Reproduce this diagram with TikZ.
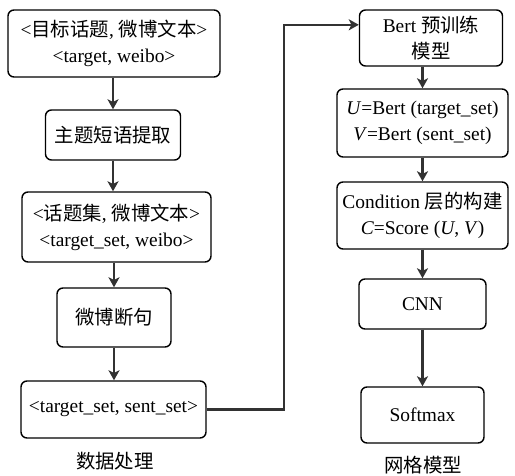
\documentclass[tikz,border=0pt]{standalone}
\usepackage{fontspec}
\setmainfont{Liberation Serif}
\newfontfamily\zh{Noto Sans CJK SC}
\usetikzlibrary{arrows.meta,calc}
\definecolor{linecolor}{RGB}{50,50,50}

\begin{document}
\begin{tikzpicture}[x=0.5pt,y=-0.5pt,
    box/.style={rectangle, rounded corners=3pt, draw=black, line width=0.7pt,
                align=center, inner sep=1pt, font=\fontsize{9.7}{13}\selectfont},
    arr/.style={-{Stealth[length=5pt,width=5.5pt,inset=1.3pt]}, line width=1.2pt, draw=linecolor},
    caption/.style={font=\fontsize{9.7}{13}\selectfont\zh}
  ]
  \useasboundingbox (0,0) rectangle (515,476);

  % data processing
  \node[box, minimum width=106pt, minimum height=33.5pt] (d1) at (114,43.5)
    {<{\zh 目标话题}, {\zh 微博文本}>\\<target, weibo>};
  \node[box, minimum width=67.5pt, minimum height=25pt] (d2) at (113,135)
    {\zh 主题短语提取};
  \node[box, minimum width=94.5pt, minimum height=35pt] (d3) at (116.5,227)
    {<{\zh 话题集}, {\zh 微博文本}>\\<target\_set, weibo>};
  \node[box, minimum width=57pt, minimum height=29.5pt] (d4) at (114,317.5)
    {\zh 微博断句};
  \node[box, minimum width=92.5pt, minimum height=28.5pt] (d5) at (113.5,409.5)
    {<target\_set, sent\_set>};
  \node[caption] (c1) at (115,461) {数据处理};

  % model
  \node[box, minimum width=71.5pt, minimum height=28pt] (m1) at (431,38)
    {Bert {\zh 预训练}\\{\zh 模型}};
  \node[box, minimum width=85.5pt, minimum height=34pt] (m2) at (422.5,123)
    {\textit{U}=Bert (target\_set)\\\textit{V}=Bert (sent\_set)};
  \node[box, minimum width=85.5pt, minimum height=33.5pt] (m3) at (422.5,215.5)
    {Condition {\zh 层的构建}\\\textit{C}=Score (\textit{U}, \textit{V})};
  \node[box, minimum width=63.5pt, minimum height=25pt] (m4) at (422.5,304)
    {CNN};
  \node[box, minimum width=61.5pt, minimum height=28pt] (m5) at (422.5,415)
    {Softmax};
  \node[caption] (c2) at (423,465) {网格模型};

  \draw[arr] (d1.south -| d2) -- (d2.north);
  \draw[arr] (d2) -- (d2 |- d3.north);
  \draw[arr] (d3.south -| d4) -- (d4.north);
  \draw[arr] (d4) -- (d4 |- d5.north);
  \draw[arr] (d5.east) -- ++(77,0) |- ($(m1.north west)!0.27!(m1.south west)$);

  \draw[arr] (m1.south -| m2) -- (m2.north);
  \draw[arr] (m2) -- (m3);
  \draw[arr] (m3) -- (m4);
  \draw[arr] (m4) -- (m5);
\end{tikzpicture}
\end{document}
